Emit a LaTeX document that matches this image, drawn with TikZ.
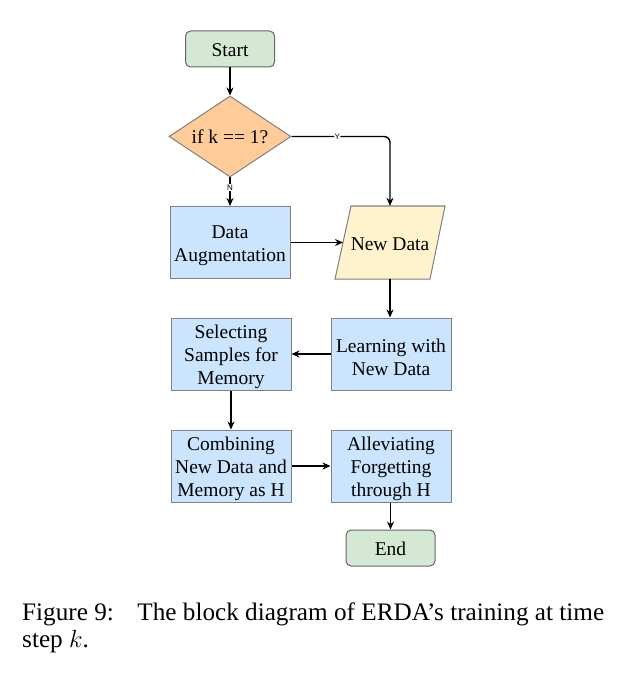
\documentclass[tikz,border=0pt]{standalone}
\usepackage{fontspec}
\setmainfont{Liberation Serif}
\newfontfamily\labelfont{Liberation Sans}
\usetikzlibrary{shapes.geometric,arrows.meta,calc}
\definecolor{bluefill}{HTML}{CCE5FF}
\definecolor{greenfill}{HTML}{D5E8D4}
\definecolor{orangefill}{HTML}{FFCC99}
\definecolor{yellowfill}{HTML}{FFF2CC}
\definecolor{edgegray}{HTML}{808080}
\newcommand\topstrut{\rule{0pt}{20pt}}
\tikzset{
  nodefont/.style={font=\fontsize{19.5}{23}\selectfont, align=center},
  procbox/.style={draw=edgegray, line width=1pt, fill=bluefill, minimum width=120pt, minimum height=72pt, inner sep=0pt, nodefont},
  termbox/.style={draw=edgegray!80!black, line width=1pt, fill=greenfill, rounded corners=5pt, minimum width=89pt, minimum height=36pt, inner sep=0pt, nodefont,
    execute at begin node={\rule{0pt}{15pt}}},
  decbox/.style={draw=edgegray, line width=1pt, fill=orangefill, diamond, aspect=1.5, minimum width=122pt, minimum height=81pt, inner sep=0pt, nodefont},
  dataarea/.style={minimum width=95pt, minimum height=73pt, inner sep=0pt, nodefont,
    execute at begin node={\rule{0pt}{17pt}}},
  datashape/.style={draw=edgegray, line width=1pt, fill=yellowfill},
  conn/.style={draw=black, line width=1.4pt, -{Stealth[length=8pt,width=7pt]}},
  edgelabel/.style={font=\labelfont\fontsize{8}{8}\selectfont, fill=white, inner sep=0.5pt},
  captionfont/.style={font=\fontsize{25.2}{28}\selectfont, inner sep=0pt, anchor=base west}
}
\begin{document}
\begin{tikzpicture}[x=1pt,y=-1pt]
\useasboundingbox (0,0) rectangle (627,676);
\node[termbox] (start) at (230,49) {Start};
\node[decbox] (dec) at (230,136.5) {if k == 1?};
\node[procbox] (aug) at (230,242.5) {\topstrut Data\\Augmentation};
% New Data parallelogram
\coordinate (ndc) at (390,242.5);
\path[datashape] ($(ndc)+(-39,-36.5)$) -- ($(ndc)+(55,-36.5)$) -- ($(ndc)+(40,36.5)$) -- ($(ndc)+(-55,36.5)$) -- cycle;
\node[dataarea] (newdata) at (ndc) {New Data};
\node[procbox] (learn) at (391,354) {\topstrut Learning with\\New Data};
\node[procbox] (select) at (231,354) {\topstrut Selecting\\Samples for\\Memory};
\node[procbox] (combine) at (231,466) {\topstrut Combining\\New Data and\\Memory as H};
\node[procbox] (allev) at (391,466) {\topstrut Alleviating\\Forgetting\\through H};
\node[termbox] (end) at (390.5,548) {End};
\coordinate (corner) at (390,136.5);
\coordinate (ndleft) at (343,242.5);

\draw[conn] (start) -- (dec);
\draw[conn, rounded corners=6pt] (dec.east) -- node[edgelabel, pos=0.465] {Y} (corner) -- (newdata.north -| corner);
\draw[conn] (dec.south) -- node[edgelabel, pos=0.35] {N} (aug.north);
\draw[conn] (aug.east) -- (ndleft);
\draw[conn] (newdata.south -| corner) -- (learn.north -| corner);
\draw[conn] (learn.west) -- (select.east);
\draw[conn] (select) -- (combine);
\draw[conn] (combine) -- (allev);
\draw[conn] (allev.south -| end) -- (end);

\node[captionfont] (cap1) at (22,620) {Figure 9:\hspace{0.6em} The block diagram of ERDA’s training at time};
\node[captionfont] (cap2) at (22,647) {step \(k\).};
\end{tikzpicture}
\end{document}
